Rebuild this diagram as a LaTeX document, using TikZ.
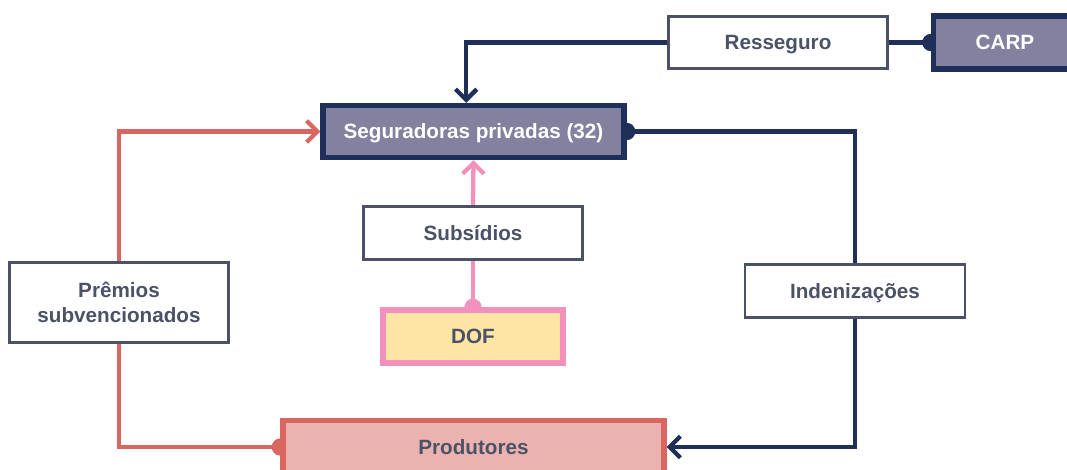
\documentclass[tikz,border=0pt]{standalone}
\usepackage{fontspec}
\setmainfont{Liberation Sans}
\usetikzlibrary{arrows.meta,backgrounds}
\definecolor{navy}{HTML}{1F2F5A}
\definecolor{slate}{HTML}{4B5268}
\definecolor{purp}{HTML}{8282A0}
\definecolor{redl}{HTML}{D9665F}
\definecolor{salmon}{HTML}{EBB3AF}
\definecolor{pinkl}{HTML}{F291BB}
\definecolor{yell}{HTML}{FEE5A6}
\begin{document}
\begin{tikzpicture}[x=0.75pt,y=-0.75pt,
  sz/.style 2 args={minimum width=#1*0.75pt, minimum height=#2*0.75pt},
  box/.style={rectangle, inner sep=0pt, align=center, font=\bfseries\fontsize{15.5}{18.8}\selectfont},
  one/.style={text height=11.1pt, text depth=0pt},
  lbox/.style={box, draw=slate, fill=white, text=slate, line width=2.2pt},
  nbox/.style={box, draw=navy, fill=purp, text=white, line width=4pt},
  conn/.style={line width=3.2pt},
  tip/.style={-{Straight Barb[length=8pt,width=16pt,line width=3.2pt]}},
  dot/.style={radius=6.5pt}
]
\useasboundingbox (0,0) rectangle (1067,470);
\clip (0,0) rectangle (1067,470);

\node[lbox, one, sz={219}{52}] (ress) at (778,42.5) {Resseguro};
\node[nbox, one, sz={143}{53}] (carp) at (1005,42.5) {CARP};
\node[nbox, one, sz={301}{52}] (seg) at (473.5,131.5) {Seguradoras privadas (32)};
\node[lbox, one, sz={219}{53}] (sub) at (473,233) {Subsídios};
\node[box, one, draw=pinkl, fill=yell, text=slate, line width=4pt, sz={180}{53}] (dof) at (473,336.5) {DOF};
\node[lbox, sz={219}{80}] (prem) at (119,302.5) {Prêmios\\subvencionados};
\node[lbox, one, sz={220}{53}] (ind) at (855,291) {Indenizações};
\node[box, one, draw=redl, fill=salmon, text=slate, line width=4pt, sz={381}{53}] (prod) at (473.5,447) {Produtores};

\coordinate (segtop) at ([xshift=-5.5pt]seg.north);

\begin{scope}[on background layer]
  % navy
  \draw[conn, navy, tip] (ress.west) -| (segtop);
  \draw[conn, navy] (carp.west) -- (ress.east);
  \fill[navy] (carp.west) circle[dot];
  \draw[conn, navy] (seg.east) -| (ind.north);
  \fill[navy] (seg.east) circle[dot];
  \draw[conn, navy, tip] (ind.south) |- (prod.east);
  % red
  \draw[conn, redl] (prod.west) -| (prem.south);
  \fill[redl] (prod.west) circle[dot];
  \draw[conn, redl, tip] (prem.north) |- (seg.west);
  % pink
  \draw[conn, pinkl] (dof.north) -- (sub.south);
  \fill[pinkl] (dof.north) circle[dot];
  \draw[conn, pinkl, tip] (sub.north) -- (seg.south);
\end{scope}
\end{tikzpicture}
\end{document}
